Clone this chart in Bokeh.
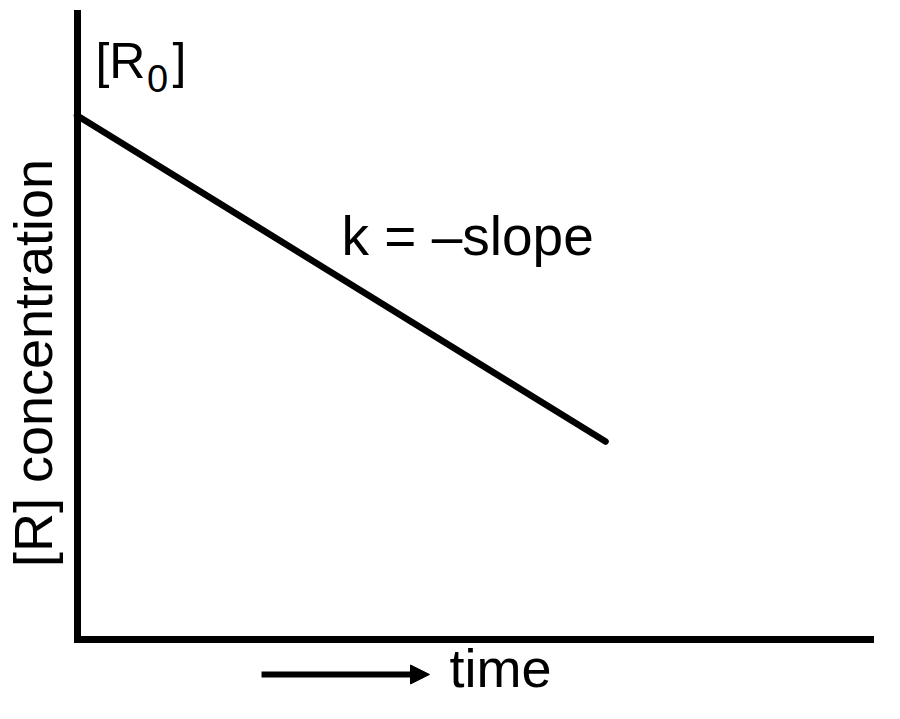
import math
from bokeh.plotting import figure
from bokeh.models import Range1d, Label, Arrow, NormalHead, FixedTicker, LinearAxis
from bokeh.embed import file_html
from bokeh.resources import INLINE

# ---- data ----
time_vals = [0.0, 6.665]
conc_vals = [8.365, 3.166]

x_axis_title = "time"
y_axis_title = "[R] concentration"
slope_text = "k = \u2013slope"
r0_main = "[R"
r0_sub = "0"
r0_close = "]"

FONT = "Liberation Sans"

p = figure(width=884, height=703, output_backend="svg", toolbar_location=None,
           x_range=Range1d(-0.9647, 10.1828), y_range=Range1d(-1.0128, 10.1994),
           x_axis_type=None, y_axis_type=None,
           min_border=0, min_border_left=0, min_border_right=0,
           min_border_top=0, min_border_bottom=0)

p.grid.visible = False
p.outline_line_color = None
p.background_fill_color = "white"
p.border_fill_color = "white"

xaxis = LinearAxis(fixed_location=0, bounds=(0, 10), ticker=FixedTicker(ticks=[]))
yaxis = LinearAxis(fixed_location=0, bounds=(0, 10), ticker=FixedTicker(ticks=[]))
for ax in (xaxis, yaxis):
    ax.major_tick_line_color = None
    ax.minor_tick_line_color = None
    ax.major_tick_out = 0
    ax.major_tick_in = 0
    ax.minor_tick_out = 0
    ax.minor_tick_in = 0
    ax.major_label_standoff = 0
    ax.major_label_text_font_size = "0px"
    ax.axis_line_width = 7
    ax.axis_line_color = "black"
    ax.axis_line_cap = "square"
p.add_layout(xaxis, "below")
p.add_layout(yaxis, "left")

p.line(time_vals, conc_vals, line_width=6.5, line_color="black", line_cap="round")

p.add_layout(Label(x=3.335, y=6.443, text=slope_text, text_font=FONT,
                   text_font_size="55px", text_color="black",
                   text_baseline="alphabetic", text_align="left"))

p.add_layout(Label(x=0.233, y=9.234, text=r0_main, text_font=FONT,
                   text_font_size="50px", text_color="black",
                   text_baseline="alphabetic", text_align="left"))
p.add_layout(Label(x=0.883, y=8.952, text=r0_sub, text_font=FONT,
                   text_font_size="38px", text_color="black",
                   text_baseline="alphabetic", text_align="left"))
p.add_layout(Label(x=1.204, y=9.234, text=r0_close, text_font=FONT,
                   text_font_size="50px", text_color="black",
                   text_baseline="alphabetic", text_align="left"))

p.add_layout(Label(x=4.697, y=-0.4545, text=x_axis_title, text_font=FONT,
                   text_font_size="54px", text_color="black",
                   text_baseline="alphabetic", text_align="left"))

p.add_layout(Label(x=-0.561, y=4.418, text=y_axis_title, text_font=FONT,
                   text_font_size="54px", text_color="black", angle=math.pi / 2,
                   text_baseline="alphabetic", text_align="center"))

p.add_layout(Arrow(x_start=2.327, y_start=-0.550, x_end=4.445, y_end=-0.550,
                   line_width=6, line_color="black",
                   end=NormalHead(size=19, fill_color="black", line_color="black", line_width=1)))

open("out.html", "w").write(file_html(p, INLINE))
